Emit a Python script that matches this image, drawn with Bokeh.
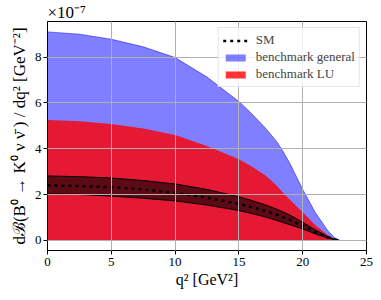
from bokeh.plotting import figure
from bokeh.models import FixedTicker, Legend, LegendItem, Range1d
from bokeh.embed import file_html
from bokeh.resources import INLINE

# q^2 grid in GeV^2
q2 = [0, 2.5, 5, 7.5, 10, 12.5, 15, 16, 17, 17.5, 18, 18.5, 19, 20, 21, 22, 22.5, 22.87]
# dB/dq^2 in units of 1e-7 GeV^-2
general_upper = [9.10, 9.00, 8.78, 8.45, 7.98, 7.13, 6.06, 5.53, 4.95, 4.62, 4.28, 3.84, 3.35, 2.22, 1.20, 0.40, 0.11, 0.0]
lu_upper = [5.25, 5.20, 5.08, 4.88, 4.60, 4.12, 3.54, 3.22, 2.86, 2.63, 2.36, 2.06, 1.77, 1.22, 0.66, 0.21, 0.06, 0.0]
sm_central = [2.40, 2.37, 2.32, 2.22, 2.07, 1.86, 1.59, 1.45, 1.30, 1.21, 1.11, 1.00, 0.89, 0.64, 0.36, 0.12, 0.035, 0.0]
sm_upper = [2.81, 2.78, 2.72, 2.61, 2.46, 2.22, 1.90, 1.74, 1.56, 1.46, 1.35, 1.23, 1.10, 0.79, 0.45, 0.15, 0.045, 0.0]
sm_lower = [2.03, 2.00, 1.93, 1.84, 1.72, 1.54, 1.30, 1.17, 1.03, 0.95, 0.86, 0.77, 0.68, 0.50, 0.28, 0.09, 0.025, 0.0]
zero = [0.0] * len(q2)

x_ticks = [0, 5, 10, 15, 20, 25]
y_ticks = [0, 2, 4, 6, 8]

FONT = "Liberation Serif"

p = figure(width=373, height=292, output_backend="svg", toolbar_location=None,
           x_range=Range1d(0, 25), y_range=Range1d(-0.445, 9.555),
           min_border_left=47, min_border_right=7, min_border_top=21, min_border_bottom=42)

p.title.text = "×10⁻⁷"
p.title.align = "left"
p.title.text_font = FONT
p.title.text_font_size = "17px"
p.title.text_font_style = "normal"
p.title.text_color = "black"
p.title.standoff = 0
p.title.offset = 0

blue_area = p.varea(x=q2, y1=zero, y2=general_upper, fill_color="blue", fill_alpha=0.5)
p.line(q2, general_upper, line_color="blue", line_alpha=0.5, line_width=1)
red_area = p.varea(x=q2, y1=zero, y2=lu_upper, fill_color="red", fill_alpha=0.8)
p.varea(x=q2, y1=sm_lower, y2=sm_upper, fill_color="black", fill_alpha=0.6)
p.line(q2, sm_upper, line_color="black", line_width=1)
p.line(q2, sm_lower, line_color="black", line_width=1)
sm_line = p.line(q2, sm_central, line_color="black", line_width=2.5, line_dash="3 4")

legend = Legend(items=[
    LegendItem(label="SM", renderers=[sm_line]),
    LegendItem(label="benchmark general", renderers=[blue_area]),
    LegendItem(label="benchmark LU", renderers=[red_area]),
], location="top_right")
legend.label_text_font = FONT
legend.label_text_font_size = "13px"
legend.label_height = 15
legend.glyph_height = 9
legend.glyph_width = 25
legend.label_standoff = 8
legend.spacing = 1
legend.padding = 4
legend.margin = 6
legend.border_line_color = "#cccccc"
legend.border_line_width = 1
legend.background_fill_alpha = 0.8
p.add_layout(legend)

for g in (p.xgrid, p.ygrid):
    g.grid_line_color = "#b0b0b0"
    g.grid_line_width = 1
    g.level = "guide"

p.xaxis.ticker = FixedTicker(ticks=x_ticks)
p.yaxis.ticker = FixedTicker(ticks=y_ticks)
for ax in (p.xaxis, p.yaxis):
    ax.major_tick_in = 0
    ax.major_tick_out = 4
    ax.minor_tick_line_color = None
    ax.axis_line_color = "black"
    ax.major_tick_line_color = "black"
    ax.major_label_text_font = FONT
    ax.major_label_text_font_size = "13px"
    ax.major_label_text_color = "black"
    ax.axis_label_text_font = FONT
    ax.axis_label_text_font_style = "normal"
    ax.axis_label_text_color = "black"

p.xaxis.axis_label = "q² [GeV²]"
p.xaxis.axis_label_text_font_size = "16px"
p.xaxis.major_label_standoff = 3
p.xaxis.axis_label_standoff = 2

p.yaxis.axis_label = "dℬ(B⁰ → K⁰ ν ν̄ ) / dq² [GeV⁻²]"
p.yaxis.axis_label_text_font_size = "17px"
p.yaxis.major_label_standoff = 2
p.yaxis.axis_label_standoff = 3

p.outline_line_color = "black"
p.outline_line_width = 1

open("out.html", "w").write(file_html(p, INLINE))
